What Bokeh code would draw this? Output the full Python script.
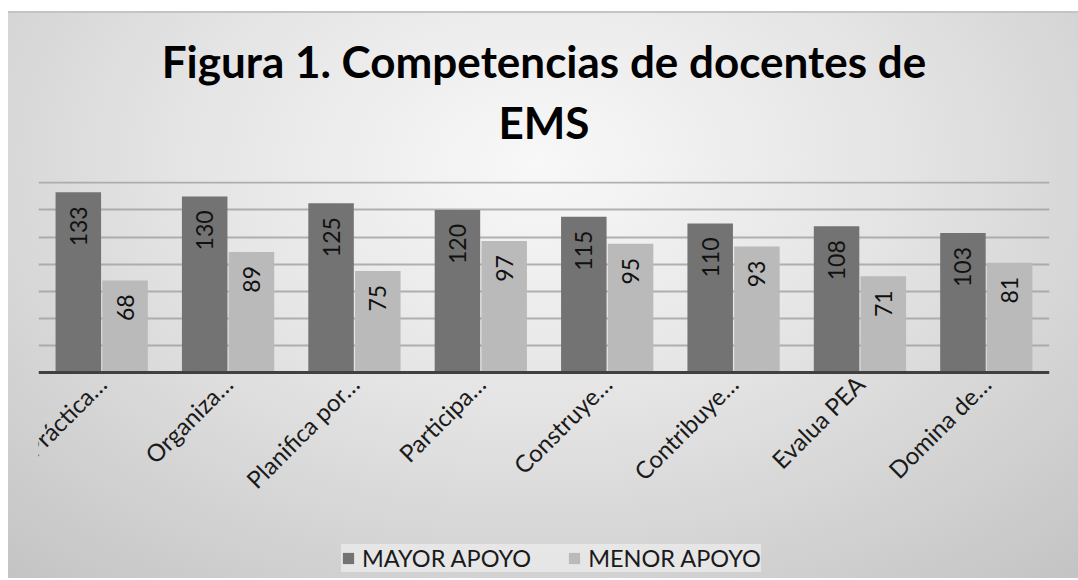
from math import pi
from bokeh.plotting import figure
from bokeh.models import (ColumnDataSource, FactorRange, Range1d, Legend, LegendItem,
                          Title, FixedTicker)
from bokeh.core.properties import value
from bokeh.transform import dodge
from bokeh.embed import file_html
from bokeh.resources import INLINE

# ---- data ----
categories = ["Práctica…", "Organiza…", "Planifica por…", "Participa…",
              "Construye…", "Contribuye…", "Evalua PEA", "Domina de…"]
mayor_apoyo = [133, 130, 125, 120, 115, 110, 108, 103]
menor_apoyo = [68, 89, 75, 97, 95, 93, 71, 81]
series_names = ["MAYOR APOYO", "MENOR APOYO"]
title_lines = ["Figura 1. Competencias de docentes de", "EMS"]
y_max = 141
y_min = -152          # room below the baseline for category labels and legend
grid_step = 20
grid_ticks = list(range(grid_step, 141, grid_step))

source = ColumnDataSource(dict(
    cat=categories,
    mayor=mayor_apoyo,
    menor=menor_apoyo,
    mayor_txt=[str(v) for v in mayor_apoyo],
    menor_txt=[str(v) for v in menor_apoyo],
))

FONT = "Lato"
DARK = "#737373"
LIGHT = "#bababa"

p = figure(
    x_range=FactorRange(*categories),
    y_range=Range1d(y_min, y_max),
    frame_width=1011, frame_height=397,
    output_backend="svg", toolbar_location=None,
    min_border_left=38, min_border_right=29, min_border_top=0, min_border_bottom=0,
    border_fill_color=None, background_fill_color=None,
    outline_line_color=None,
)
p.styles = {
    "background": ("linear-gradient(#ffffff,#ffffff) 0 0/100% 11px no-repeat, "
                   "linear-gradient(#ffffff,#ffffff) 0 0/8px 100% no-repeat, "
                   "linear-gradient(#c4c4c4,#c4c4c4) 0 11px/100% 2px no-repeat, "
                   "radial-gradient(ellipse 75% 95% at 50% 28%, #f8f8f8 0%, #e4e4e4 45%, #c4c4c4 100%)"),
}

# titles (first added sits closest to the plot); blank 1px titles are spacers
TITLE_KW = dict(align="center", text_font=FONT, text_font_size="44px",
                text_font_style="bold", text_color="#000000")
p.add_layout(Title(text=" ", text_font_size="1px", standoff=31), "above")
p.add_layout(Title(text=title_lines[1], standoff=0, **TITLE_KW), "above")
p.add_layout(Title(text=title_lines[0], standoff=14, **TITLE_KW), "above")
p.add_layout(Title(text=" ", text_font_size="1px", standoff=22), "above")

r1 = p.vbar(x=dodge("cat", -0.185, range=p.x_range), top="mayor", bottom=0, width=0.36,
            source=source, fill_color=DARK, line_color=None)
r2 = p.vbar(x=dodge("cat", 0.185, range=p.x_range), top="menor", bottom=0, width=0.36,
            source=source, fill_color=LIGHT, line_color=None)

p.text(x=dodge("cat", -0.185, range=p.x_range), y="mayor", text="mayor_txt", source=source,
       angle=pi / 2, text_align="right", text_baseline="middle", y_offset=14,
       text_font=value(FONT), text_font_size="23px", text_color="#111111")
p.text(x=dodge("cat", 0.185, range=p.x_range), y="menor", text="menor_txt", source=source,
       angle=pi / 2, text_align="right", text_baseline="middle", y_offset=14,
       text_font=value(FONT), text_font_size="23px", text_color="#111111")

# grid / axes
p.yaxis.ticker = FixedTicker(ticks=grid_ticks)
p.yaxis.visible = False
p.ygrid.grid_line_color = "#a0a0a0"
p.ygrid.grid_line_width = 2
p.ygrid.grid_line_alpha = 0.8
p.xgrid.grid_line_color = None

xa = p.xaxis[0]
xa.fixed_location = 0
xa.axis_line_color = "#404040"
xa.axis_line_width = 3
xa.major_tick_line_color = None
xa.minor_tick_line_color = None
xa.major_tick_out = 0
xa.major_tick_in = 0
xa.major_label_orientation = pi / 4
xa.major_label_text_font = FONT
xa.major_label_text_font_size = "24px"
xa.major_label_text_color = "#1a1a1a"
xa.major_label_standoff = 7

legend = Legend(items=[LegendItem(label=series_names[0], renderers=[r1]),
                       LegendItem(label=series_names[1], renderers=[r2])],
                orientation="horizontal", location=(303, 6),
                label_text_font=FONT, label_text_font_size="23.5px", label_text_color="#1a1a1a",
                glyph_width=14, glyph_height=14, label_standoff=7, spacing=36,
                padding=9, margin=0,
                background_fill_color="#ececec", background_fill_alpha=0.75,
                border_line_color=None)
p.add_layout(legend, "center")

open("out.html", "w").write(file_html(p, INLINE))
